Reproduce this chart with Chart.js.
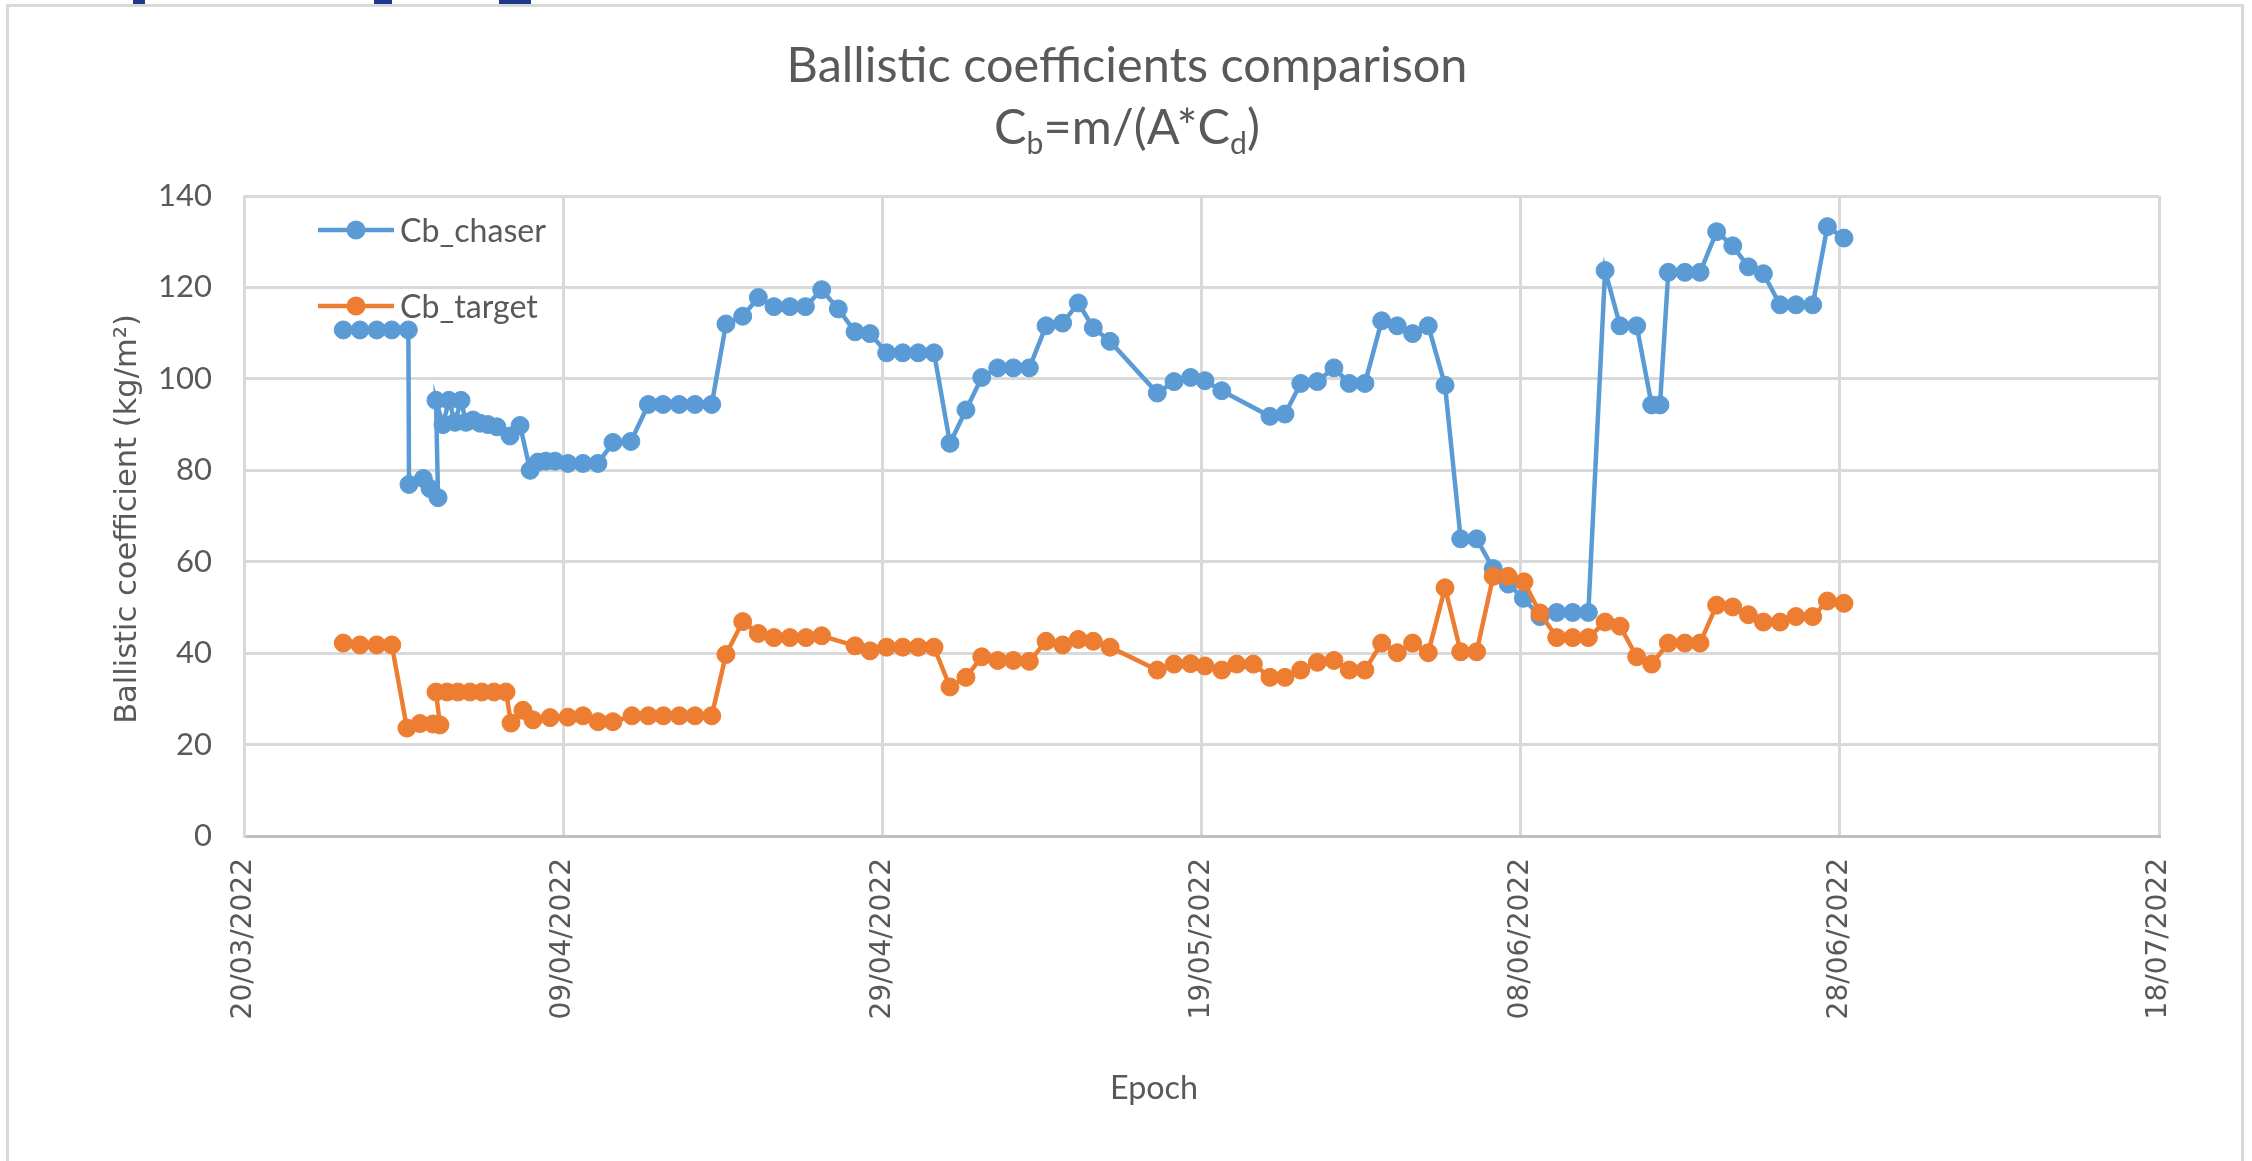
<!DOCTYPE html>
<html>
<head>
<meta charset="utf-8">
<script src="https://cdn.jsdelivr.net/npm/chart.js@4.4.1/dist/chart.umd.min.js"></script>
<style>
html,body{margin:0;padding:0;background:#ffffff;}
#wrap{position:relative;width:2252px;height:1161px;overflow:hidden;background:#fff;}
#c{position:absolute;left:0;top:0;}
.mark{position:absolute;top:0;height:4px;background:#1f3a8a;}
</style>
</head>
<body>
<div id="wrap">
<canvas id="c" width="2252" height="1161"></canvas>
<div class="mark" style="left:133px;width:12px"></div>
<div class="mark" style="left:374px;width:18px"></div>
<div class="mark" style="left:499px;width:32px"></div>
</div>
<script>
// ---- Data (epochs as Excel serial dates, Cb in kg/m^2) ----
const chaserEpochs = [44646.22,44647.27,44648.32,44649.26,44650.30,44650.34,44651.24,44651.66,44652.16,44652.03,44652.47,44652.84,44653.22,44653.60,44653.91,44654.35,44654.79,44655.29,44655.85,44656.67,44657.30,44657.93,44658.42,44658.92,44659.49,44660.30,44661.24,44662.18,44663.12,44664.24,44665.34,44666.26,44667.27,44668.26,44669.31,44670.20,44671.25,44672.23,44673.21,44674.21,44675.18,44676.20,44677.24,44678.29,44679.23,44680.27,44681.28,44682.25,44683.24,44684.24,44685.24,44686.23,44687.23,44688.21,44689.21,44690.26,44691.30,44692.28,44693.22,44694.27,44697.23,44698.28,44699.32,44700.22,44701.27,44704.29,44705.23,44706.22,44707.26,44708.30,44709.26,44710.24,44711.29,44712.27,44713.23,44714.21,44715.26,44716.24,44717.24,44718.28,44719.22,44720.17,44721.21,44722.26,44723.26,44724.24,44725.29,44726.23,44727.27,44728.21,44728.73,44729.25,44730.29,44731.24,44732.28,44733.29,44734.27,44735.21,44736.26,44737.25,44738.30,44739.22,44740.26];
const chaserCb = [110.7,110.7,110.7,110.7,110.7,76.9,78.2,76.0,74.0,95.3,90.0,95.3,90.5,95.3,90.5,91.0,90.3,90.0,89.5,87.5,89.8,80.0,81.8,82.0,82.0,81.5,81.5,81.5,86.1,86.3,94.4,94.4,94.4,94.4,94.4,112.0,113.7,117.8,115.8,115.8,115.8,119.5,115.3,110.3,109.9,105.7,105.7,105.7,105.7,85.9,93.2,100.3,102.4,102.4,102.4,111.6,112.2,116.6,111.2,108.2,96.9,99.4,100.3,99.6,97.4,91.8,92.3,99.0,99.4,102.4,99.0,99.0,112.7,111.6,109.9,111.6,98.6,65.0,65.0,58.5,55.1,52.0,48.0,48.9,48.9,48.9,123.7,111.6,111.6,94.3,94.3,123.3,123.3,123.3,132.2,129.1,124.5,123.0,116.2,116.2,116.2,133.3,130.8];

const targetEpochs = [44646.22,44647.27,44648.32,44649.26,44650.21,44651.03,44651.84,44652.28,44652.03,44652.72,44653.41,44654.16,44654.91,44655.67,44656.42,44656.73,44657.48,44658.11,44659.18,44660.30,44661.24,44662.18,44663.12,44664.31,44665.34,44666.28,44667.28,44668.26,44669.31,44670.20,44671.25,44672.23,44673.21,44674.21,44675.22,44676.20,44678.29,44679.23,44680.27,44681.28,44682.25,44683.24,44684.24,44685.24,44686.23,44687.23,44688.21,44689.21,44690.26,44691.30,44692.28,44693.22,44694.27,44697.23,44698.28,44699.32,44700.22,44701.27,44702.21,44703.25,44704.29,44705.23,44706.22,44707.26,44708.30,44709.26,44710.24,44711.29,44712.27,44713.23,44714.21,44715.26,44716.24,44717.24,44718.28,44719.22,44720.21,44721.21,44722.26,44723.26,44724.24,44725.29,44726.23,44727.27,44728.21,44729.25,44730.29,44731.24,44732.28,44733.29,44734.27,44735.21,44736.26,44737.25,44738.30,44739.22,44740.26];
const targetCb = [42.2,41.8,41.8,41.8,23.6,24.6,24.5,24.3,31.5,31.5,31.5,31.5,31.5,31.5,31.5,24.7,27.5,25.4,25.9,26.0,26.3,25.0,25.0,26.3,26.3,26.3,26.3,26.3,26.3,39.7,46.9,44.3,43.4,43.4,43.4,43.8,41.6,40.5,41.3,41.3,41.3,41.3,32.6,34.7,39.2,38.4,38.4,38.2,42.6,41.8,43.0,42.6,41.3,36.3,37.6,37.7,37.2,36.3,37.6,37.6,34.7,34.7,36.3,38.0,38.4,36.3,36.3,42.2,40.1,42.2,40.1,54.3,40.3,40.3,56.8,56.8,55.6,48.8,43.4,43.4,43.4,46.8,45.9,39.2,37.6,42.2,42.2,42.2,50.5,50.1,48.4,46.8,46.8,48.0,48.0,51.4,50.9];

const seriesNames = ['Cb_chaser', 'Cb_target'];
const xAxisMin = 44640;   // 20/03/2022
const xAxisMax = 44760;   // 18/07/2022
const xAxisStep = 20;
const yAxisMin = 0, yAxisMax = 140, yAxisStep = 20;
const titleLine1 = 'Ballistic coefficients comparison';
const titleLine2 = [['C',false],['b',true],['=m/(A*C',false],['d',true],[')',false]];
const xTitle = 'Epoch';
const yTitle = 'Ballistic coefficient (kg/m\u00B2)';

// ---- helpers ----
function serialToLabel(s) {
  const ms = Date.UTC(1899, 11, 30) + Math.round(s) * 86400000;
  const d = new Date(ms);
  const dd = String(d.getUTCDate()).padStart(2, '0');
  const mm = String(d.getUTCMonth() + 1).padStart(2, '0');
  return dd + '/' + mm + '/' + d.getUTCFullYear();
}
function toPoints(xs, ys) { return xs.map((x, i) => ({x: x, y: ys[i]})); }

const BLUE = '#5B9BD5', ORANGE = '#ED7D31', TXT = '#595959';
const SANS = 'Lato, "Open Sans", sans-serif';

function fitSize(ctx, text, family, target) {
  ctx.font = '100px ' + family;
  return 100 * target / ctx.measureText(text).width;
}

const textPlugin = {
  id: 'texts',
  beforeDraw(chart) {
    const ctx = chart.ctx;
    ctx.save();
    ctx.fillStyle = '#ffffff';
    ctx.fillRect(0, 0, chart.width, chart.height);
    ctx.strokeStyle = '#d9d9d9';
    ctx.lineWidth = 3;
    ctx.strokeRect(7.5, 5.5, 2235, 1200);
    ctx.restore();
  },
  afterDraw(chart) {
    const ctx = chart.ctx;
    ctx.save();
    ctx.fillStyle = TXT;
    // Title line 1
    const ts = fitSize(ctx, titleLine1, SANS, 681);
    ctx.font = ts + 'px ' + SANS;
    ctx.textAlign = 'center';
    ctx.textBaseline = 'alphabetic';
    ctx.fillText(titleLine1, 1127, 82);
    // Title line 2 with subscripts
    const subSize = ts * 0.62;
    let total = 0;
    const widths = titleLine2.map(([t, sub]) => {
      ctx.font = (sub ? subSize : ts) + 'px ' + SANS;
      const w = ctx.measureText(t).width; total += w; return w;
    });
    let x = 1127 - total / 2;
    ctx.textAlign = 'left';
    titleLine2.forEach(([t, sub], i) => {
      ctx.font = (sub ? subSize : ts) + 'px ' + SANS;
      ctx.fillText(t, x, sub ? 144 + ts * 0.2 : 144);
      x += widths[i];
    });
    // X axis title
    const es = fitSize(ctx, xTitle, SANS, 88);
    ctx.font = es + 'px ' + SANS;
    ctx.textAlign = 'center';
    ctx.fillText(xTitle, 1154, 1099);
    // Y axis title
    const ys = fitSize(ctx, yTitle, '"DejaVu Sans"', 410);
    ctx.save();
    ctx.translate(128, 519);
    ctx.rotate(-Math.PI / 2);
    ctx.font = ys + 'px "DejaVu Sans"';
    ctx.textAlign = 'center';
    ctx.textBaseline = 'middle';
    ctx.fillText(yTitle, 0, 0);
    ctx.restore();
    // Legend (inside plot, top-left)
    const ls = fitSize(ctx, 'Cb_chaser', SANS, 146);
    const rows = [230, 306];
    chart.data.datasets.forEach((ds, i) => {
      const y = rows[i];
      ctx.strokeStyle = ds.borderColor;
      ctx.lineWidth = ds.borderWidth;
      ctx.beginPath(); ctx.moveTo(318, y); ctx.lineTo(394, y); ctx.stroke();
      ctx.fillStyle = ds.pointBackgroundColor;
      ctx.beginPath(); ctx.arc(356, y, ds.pointRadius + 0.5, 0, Math.PI * 2); ctx.fill();
      ctx.fillStyle = TXT;
      ctx.font = ls + 'px ' + SANS;
      ctx.textAlign = 'left';
      ctx.textBaseline = 'middle';
      ctx.fillText(ds.label, 400, y + 2);
    });
    ctx.restore();
  }
};

const gridCommon = {color: '#d9d9d9', lineWidth: 3, drawTicks: false};

new Chart(document.getElementById('c'), {
  type: 'line',
  data: {
    datasets: [
      {label: seriesNames[0], data: toPoints(chaserEpochs, chaserCb), borderColor: BLUE, backgroundColor: BLUE,
       pointBackgroundColor: BLUE, pointBorderColor: BLUE, borderWidth: 4.5, pointRadius: 9, pointBorderWidth: 1,
       tension: 0, fill: false, order: 1},
      {label: seriesNames[1], data: toPoints(targetEpochs, targetCb), borderColor: ORANGE, backgroundColor: ORANGE,
       pointBackgroundColor: ORANGE, pointBorderColor: ORANGE, borderWidth: 4.5, pointRadius: 9, pointBorderWidth: 1,
       tension: 0, fill: false, order: 0}
    ]
  },
  options: {
    responsive: false,
    animation: false,
    devicePixelRatio: 1,
    events: [],
    layout: {padding: {top: 196, right: 93, left: 0, bottom: 0}},
    plugins: {legend: {display: false}, title: {display: false}, tooltip: {enabled: false}},
    scales: {
      x: {
        type: 'linear', min: xAxisMin, max: xAxisMax,
        ticks: {stepSize: xAxisStep, autoSkip: false, maxRotation: 90, minRotation: 90, padding: 22,
                color: TXT, font: {family: '"DejaVu Sans"', size: 28}, callback: v => serialToLabel(v)},
        grid: gridCommon,
        border: {color: '#bfbfbf', width: 3},
        afterFit(s) { s.height = 1161 - 836; }
      },
      y: {
        min: yAxisMin, max: yAxisMax,
        ticks: {stepSize: yAxisStep, padding: 32, color: TXT, font: {family: SANS, size: 31}},
        grid: gridCommon,
        border: {color: '#d9d9d9', width: 3},
        afterFit(s) { s.width = 244; }
      }
    }
  },
  plugins: [textPlugin]
});
</script>
</body>
</html>
